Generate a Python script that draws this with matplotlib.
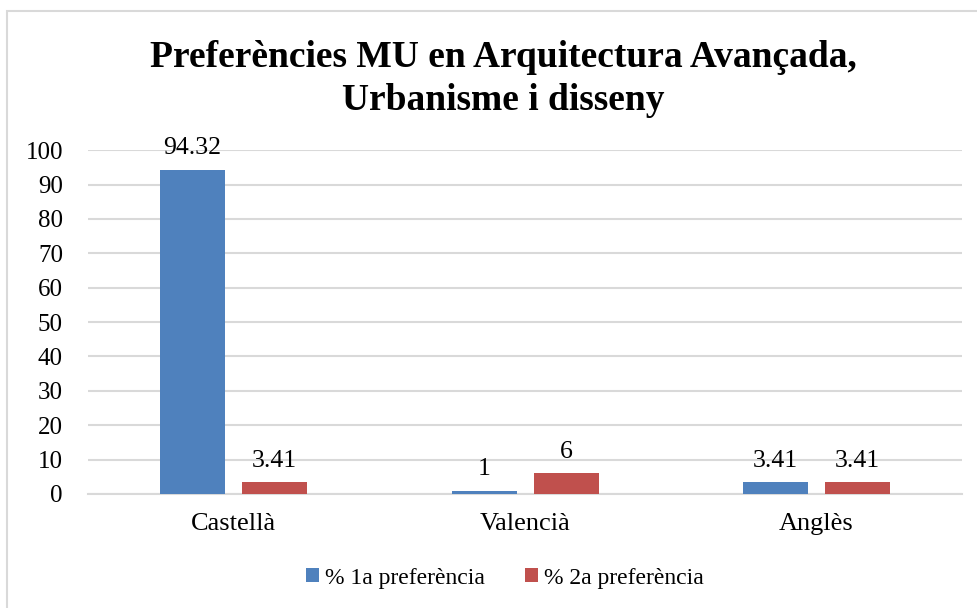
import matplotlib.pyplot as plt
import numpy as np
from matplotlib.patches import Rectangle

plt.rcParams['font.family'] = ['Liberation Serif', 'DejaVu Serif']

categories = ['Castellà', 'Valencià', 'Anglès']
pref1 = [94.32, 1, 3.41]
pref2 = [3.41, 6, 3.41]
labels1 = ['94.32', '1', '3.41']
labels2 = ['3.41', '6', '3.41']

fig = plt.figure(figsize=(9.77, 6.08), dpi=100)
ax = fig.add_axes([0.090, 0.1875, 0.895, 0.5655])

# thin gray chart border (cropped at right and bottom)
fig.patches.append(Rectangle((7 / 977, -0.1), 1.2, 1 - 11 / 608 + 0.1,
                             transform=fig.transFigure, fill=False,
                             edgecolor='#d9d9d9', linewidth=1.5))

x = np.arange(len(categories))
w = 0.223
off = 0.141
b1 = ax.bar(x - off, pref1, w, color='#4F81BD', label='% 1a preferència', zorder=3)
b2 = ax.bar(x + off, pref2, w, color='#C0504D', label='% 2a preferència', zorder=3)

for bars, labs in [(b1, labels1), (b2, labels2)]:
    for rect, lab in zip(bars, labs):
        ax.text(rect.get_x() + rect.get_width() / 2, rect.get_height() + 3.0, lab,
                ha='center', va='bottom', fontsize=18.5)

ax.set_xlim(-0.5, 2.5)
ax.set_ylim(0, 100)
ax.set_yticks(range(0, 101, 10))
ax.yaxis.grid(True, color='#d9d9d9', linewidth=1.5, zorder=0)
ax.set_axisbelow(True)
for s in ['top', 'right', 'left']:
    ax.spines[s].set_visible(False)
ax.spines['bottom'].set_color('#d9d9d9')
ax.spines['bottom'].set_linewidth(1.5)
ax.tick_params(axis='both', length=0)
ax.tick_params(axis='y', pad=18, labelsize=18)
ax.tick_params(axis='x', pad=14, labelsize=19)
ax.set_xticks(x)
ax.set_xticklabels(categories)

fig.text(0.515, 0.870, 'Preferències MU en Arquitectura Avançada,\nUrbanisme i disseny',
         ha='center', va='center', fontsize=27, fontweight='bold', linespacing=1.3)

fig.legend(loc='center', bbox_to_anchor=(0.517, 0.049), ncol=2, frameon=False,
           fontsize=17, handlelength=0.55, handleheight=0.55, handletextpad=0.25,
           columnspacing=1.7)

fig.savefig('out.png', dpi=100)
